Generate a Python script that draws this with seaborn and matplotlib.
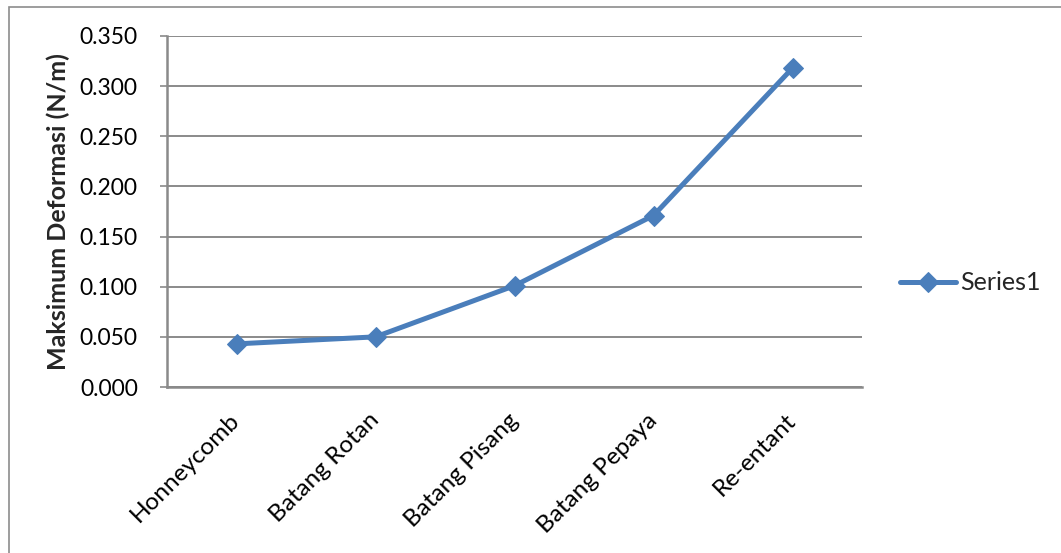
import matplotlib
matplotlib.use("Agg")
import matplotlib.pyplot as plt
from matplotlib.patches import Rectangle
import seaborn as sns
import pandas as pd

# Maximum deformation for each core structure
categories = ["Honneycomb", "Batang Rotan", "Batang Pisang", "Batang Pepaya", "Re-entant"]
deformasi = [0.043, 0.050, 0.101, 0.171, 0.318]
series_name = "Series1"
y_ticks = [0.000, 0.050, 0.100, 0.150, 0.200, 0.250, 0.300, 0.350]

sns.set_theme(style="white")
plt.rcParams["font.family"] = ["Lato", "DejaVu Sans"]

df = pd.DataFrame({"Kategori": categories, "Deformasi": deformasi, "Seri": series_name})

W, H = 1061, 553
fig = plt.figure(figsize=(W / 100, H / 100), dpi=100)
ax = fig.add_axes([167 / W, 1 - 387 / H, 695 / W, 351 / H])

blue = "#4A7EBB"
grid_c = "#8A8A8A"

sns.lineplot(data=df, x="Kategori", y="Deformasi", hue="Seri", palette=[blue],
             marker="D", markersize=10.5, markeredgecolor=blue, linewidth=3.6,
             sort=False, ax=ax)

ax.set_xlim(-0.5, len(categories) - 0.5)
ax.set_ylim(0, 0.35)
ax.set_yticks(y_ticks)
ax.set_yticklabels([f"{v:.3f}" for v in y_ticks], fontsize=16.5)
ax.yaxis.grid(True, color=grid_c, linewidth=1.4)
ax.set_axisbelow(True)

ax.set_xticks(range(len(categories)))
ax.set_xticklabels(categories, fontsize=17.5, rotation=45, ha="right",
                   va="center", rotation_mode="anchor")

ax.tick_params(axis="y", which="both", left=True, length=5, width=1.2,
               color=grid_c, pad=16, labelcolor="black")
ax.tick_params(axis="x", bottom=False, pad=15.5, labelcolor="black")

for side in ["top", "right"]:
    ax.spines[side].set_visible(False)
for side in ["left", "bottom"]:
    ax.spines[side].set_color(grid_c)
    ax.spines[side].set_linewidth(1.8)

ax.set_xlabel("")
ax.set_ylabel("Maksimum Deformasi (N/m)", fontsize=18, fontweight="bold")

leg = ax.legend(loc="center left", bbox_to_anchor=(900 / W, 1 - 283 / H),
                bbox_transform=fig.transFigure, frameon=False, fontsize=18,
                handlelength=2.25, handletextpad=0.15, borderaxespad=0,
                borderpad=0)

# Chart frame
fig.add_artist(Rectangle((9 / W, -0.01), 1.05, 1 - 7 / H + 0.01,
                         transform=fig.transFigure, fill=False,
                         edgecolor="#8C8C8C", linewidth=1.2))

# Put the y-axis title so its right edge sits at 70 px from the left
fig.canvas.draw()
renderer = fig.canvas.get_renderer()
bb = ax.yaxis.label.get_window_extent(renderer)
shift_px = 70 - bb.x1
ax_left_px = ax.get_window_extent(renderer).x0
ax_w_px = ax.get_window_extent(renderer).width
cur_x = (ax.yaxis.label.get_position()[0])
# convert the label's current display x into axes coordinates, then shift
anchor_disp = ax.yaxis.label.get_transform().transform(ax.yaxis.label.get_position())[0]
new_x = (anchor_disp + shift_px - ax_left_px) / ax_w_px
ax.yaxis.set_label_coords(new_x, 0.5)

fig.savefig("out.png", dpi=100)
